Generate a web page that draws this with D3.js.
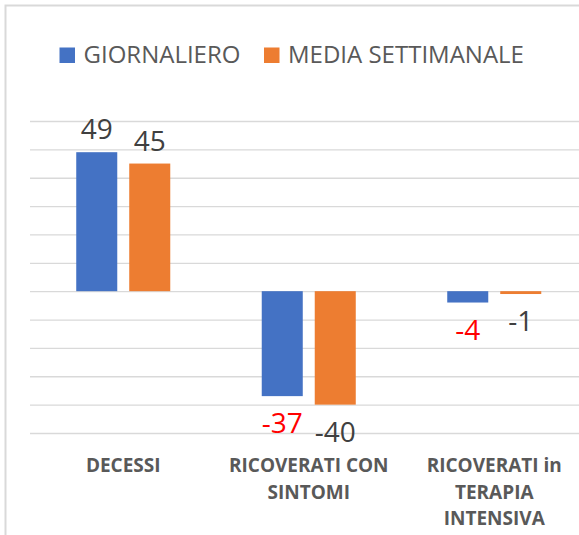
<!DOCTYPE html>
<html>
<head>
<meta charset="utf-8">
<script src="https://cdn.jsdelivr.net/npm/d3@7"></script>
<style>
  html, body { margin: 0; padding: 0; background: #ffffff; }
  svg { display: block; }
  text { font-family: "Open Sans", "DejaVu Sans", sans-serif; }
</style>
</head>
<body>
<svg id="chart" width="579" height="535"></svg>
<script>
// ---- data ----
const categories = ["DECESSI", "RICOVERATI CON SINTOMI", "RICOVERATI in TERAPIA INTENSIVA"];
const categoryLines = [["DECESSI"], ["RICOVERATI CON", "SINTOMI"], ["RICOVERATI in", "TERAPIA", "INTENSIVA"]];
const seriesNames = ["GIORNALIERO", "MEDIA SETTIMANALE"];
const giornaliero = [49, -37, -4];
const mediaSettimanale = [45, -40, -1];
const yTicks = [-50, -40, -30, -20, -10, 0, 10, 20, 30, 40, 50, 60];
const redLabels = [[false, false], [true, false], [true, false]]; // label colours per category/series

const colors = ["#4472C4", "#ED7D31"];
const seriesValues = [giornaliero, mediaSettimanale];

const svg = d3.select("#chart");
const W = 579, H = 535;

// chart frame (extends past right and bottom edges)
svg.append("rect")
  .attr("x", 5.5).attr("y", 5.5)
  .attr("width", W + 10).attr("height", H + 10)
  .attr("fill", "#ffffff")
  .attr("stroke", "#d9d9d9").attr("stroke-width", 2);

// scales
const y = d3.scaleLinear().domain([-50, 60]).range([433, 121]);
const x0 = d3.scaleBand().domain(categories).range([30.5, 587]).paddingInner(0).paddingOuter(0);
const x1 = d3.scaleBand().domain(seriesNames).range([0, x0.bandwidth()])
  .paddingInner(0.226).paddingOuter(0.863);

// gridlines via axis
const gridAxis = d3.axisLeft(y).tickValues(yTicks).tickSize(-(W - 30)).tickFormat("");
const g = svg.append("g").attr("transform", "translate(30,0)").call(gridAxis);
g.select(".domain").remove();
g.selectAll(".tick line").attr("stroke", "#d9d9d9").attr("stroke-width", 1.3);

// bars
const rows = categories.map((c, i) => ({
  cat: c, i,
  vals: seriesNames.map((s, j) => ({ s, j, v: seriesValues[j][i], red: redLabels[i][j] }))
}));

const groups = svg.append("g").selectAll("g").data(rows).join("g")
  .attr("transform", d => `translate(${x0(d.cat)},0)`);

groups.selectAll("rect").data(d => d.vals).join("rect")
  .attr("x", d => x1(d.s))
  .attr("width", x1.bandwidth())
  .attr("y", d => y(Math.max(0, d.v)))
  .attr("height", d => Math.abs(y(d.v) - y(0)))
  .attr("fill", d => colors[d.j]);

// value labels
groups.selectAll("text.val").data(d => d.vals).join("text")
  .attr("class", "val")
  .attr("x", d => x1(d.s) + x1.bandwidth() / 2)
  .attr("y", d => d.v >= 0 ? y(d.v) - 13 : y(d.v) + 37)
  .attr("text-anchor", "middle")
  .attr("font-size", 28)
  .attr("fill", d => d.red ? "#ff0000" : "#404040")
  .text(d => String(d.v));

// category labels
const catLabels = svg.append("g").selectAll("text").data(rows).join("text")
  .attr("text-anchor", "middle")
  .attr("font-size", 19)
  .attr("font-weight", "bold")
  .attr("fill", "#595959")
  .attr("transform", d => `translate(${x0(d.cat) + x0.bandwidth() / 2},472)`);
catLabels.selectAll("tspan").data(d => categoryLines[d.i]).join("tspan")
  .attr("x", 0)
  .attr("dy", (d, k) => k === 0 ? 0 : 26.5)
  .text(d => d);

// legend
const legendX = [59.5, 264];
const legend = svg.append("g").selectAll("g").data(seriesNames).join("g")
  .attr("transform", (d, j) => `translate(${legendX[j]},47.5)`);
legend.append("rect")
  .attr("width", 15.5).attr("height", 15.5)
  .attr("fill", (d, j) => colors[j]);
legend.append("text")
  .attr("x", 24).attr("y", 15.5)
  .attr("font-size", 24)
  .attr("fill", "#595959")
  .text(d => d);
</script>
</body>
</html>
